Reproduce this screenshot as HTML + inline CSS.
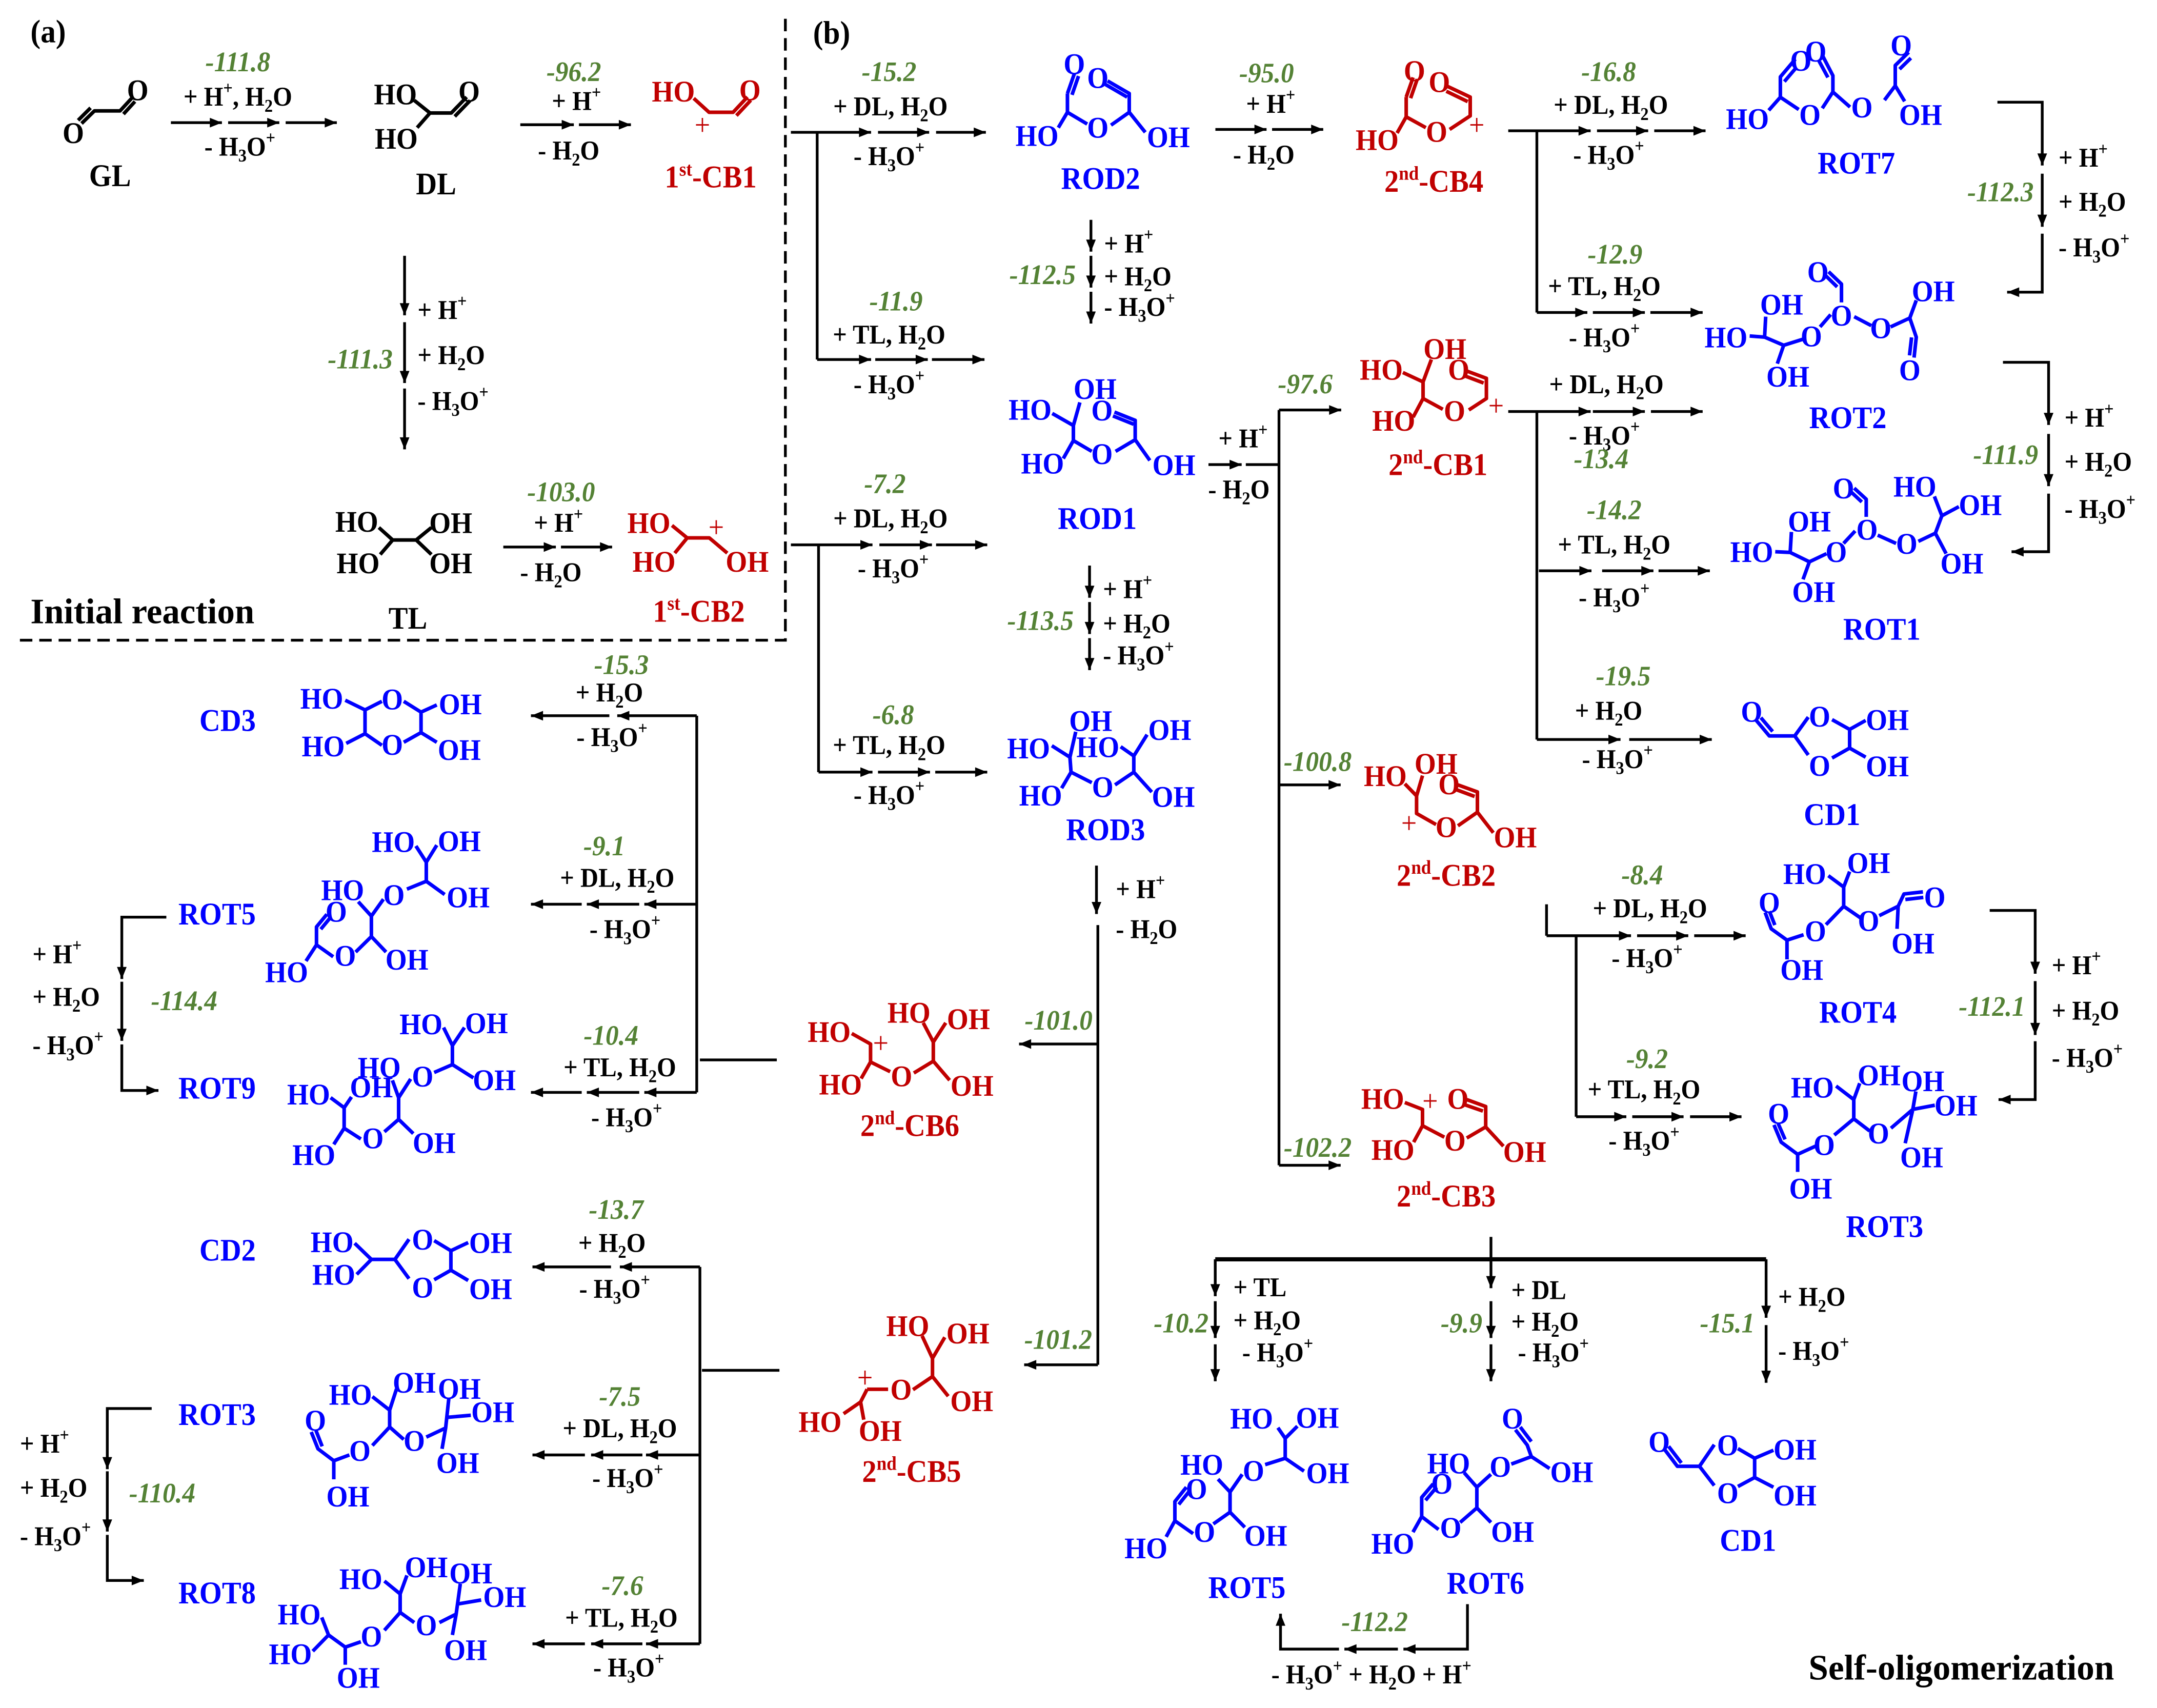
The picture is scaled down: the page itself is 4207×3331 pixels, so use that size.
<!DOCTYPE html>
<html><head><meta charset="utf-8"><style>
html,body{margin:0;padding:0;background:#fff;}
svg{display:block;}
text{font-family:"Liberation Serif","DejaVu Serif",serif;font-weight:bold;transform-box:fill-box;transform-origin:center;transform:scaleY(1.08);}
.t{font-size:18px;fill:#000;}
.g{font-size:19px;fill:#548235;font-style:italic;}
.s{font-size:20px;text-anchor:middle;}
.L{font-size:21px;text-anchor:middle;}
.m{text-anchor:middle;}
.e{text-anchor:end;}
.u{font-size:12px;}
.v{font-size:13px;}
.bl{fill:#0000ff;}
.rd{fill:#c00000;}
.bk{fill:#000;}
.k{stroke:#000;stroke-width:2;fill:none;}
.kb{stroke:#000;stroke-width:2.6;fill:none;stroke-linejoin:round;}
.bb{stroke:#0000ff;stroke-width:2.6;fill:none;stroke-linejoin:round;}
.rb{stroke:#c00000;stroke-width:2.6;fill:none;stroke-linejoin:round;}
</style></head><body>
<svg width="4207" height="3331" viewBox="0 0 1560 1235.2" preserveAspectRatio="none" xmlns="http://www.w3.org/2000/svg">
<defs>
<marker id="a" viewBox="0 0 10 8" refX="10" refY="4" markerWidth="9" markerHeight="7" markerUnits="userSpaceOnUse" orient="auto"><path d="M0,0 L10,4 L0,8 Z" fill="#000"/></marker>
</defs>
<rect width="1560" height="1235.2" fill="#fff"/>

<!-- ================= Panel (a) ================= -->
<text x="22" y="30" style="font-size:22px">(a)</text>
<path d="M568,13.6 L568,463 L13,463" stroke="#000" stroke-width="2" fill="none" stroke-dasharray="9 5"/>

<!-- GL -->
<path class="kb" d="M59,89.3 L68.3,80.2 L86.8,80.2 L95.2,71.1 M56.5,87 L65.5,78 M89.3,82.5 L97.6,73.4"/>
<text class="s bk" x="53" y="103">O</text>
<text class="s bk" x="99.6" y="72">O</text>
<text class="L bk" x="79.6" y="134">GL</text>

<g class="k" marker-end="url(#a)">
<path d="M123.6,88.7 L160.5,88.7"/><path d="M165,88.7 L202,88.7"/><path d="M206.6,88.7 L243.6,88.7"/>
<path d="M376.3,90.2 L415,90.2"/><path d="M418.7,90.2 L456.3,90.2"/>
<path d="M292.6,185 L292.6,228"/><path d="M292.6,233 L292.6,277"/><path d="M292.6,281 L292.6,325"/>
<path d="M364,395.6 L402,395.6"/><path d="M405.7,395.6 L442.7,395.6"/>
</g>
<text class="g m" x="172" y="51">-111.8</text>
<text class="t m" x="172" y="76">+ H<tspan class="u" dy="-8">+</tspan><tspan dy="8">, H</tspan><tspan class="u" dy="4">2</tspan><tspan dy="-4">O</tspan></text>
<text class="t m" x="173.5" y="112">- H<tspan class="u" dy="4">3</tspan><tspan dy="-4">O</tspan><tspan class="u" dy="-8">+</tspan></text>

<!-- DL -->
<path class="kb" d="M299.6,72.6 L311,81.7 L326.4,81.7 L337.5,70.2 M311,81.7 L301.7,92.3 M328.9,84.2 L340,72.7"/>
<text class="s bk" x="286" y="75">HO</text>
<text class="s bk" x="286.6" y="107">HO</text>
<text class="s bk" x="339.3" y="73">O</text>
<text class="L bk" x="315.4" y="140">DL</text>

<text class="g m" x="415" y="58">-96.2</text>
<text class="t m" x="416.9" y="79">+ H<tspan class="u" dy="-8">+</tspan></text>
<text class="t m" x="411.3" y="115">- H<tspan class="u" dy="4">2</tspan><tspan dy="-4">O</tspan></text>

<!-- 1st-CB1 -->
<path class="rb" d="M501.7,71.1 L512.8,81.2 L530.2,81.2 L540.6,70.1 M532.6,83.6 L543,72.5"/>
<text class="s rd" x="487" y="73">HO</text>
<text class="s rd" x="542.4" y="72">O</text>
<text class="s rd" x="508" y="97" style="font-weight:normal">+</text>
<text class="L rd" x="514" y="135">1<tspan class="v" dy="-8">st</tspan><tspan dy="8">-CB1</tspan></text>

<text class="t" x="302" y="230">+ H<tspan class="u" dy="-8">+</tspan></text>
<text class="t" x="302" y="263">+ H<tspan class="u" dy="4">2</tspan><tspan dy="-4">O</tspan></text>
<text class="t" x="302" y="296">- H<tspan class="u" dy="4">3</tspan><tspan dy="-4">O</tspan><tspan class="u" dy="-8">+</tspan></text>
<text class="g e" x="284" y="266">-111.3</text>

<!-- TL -->
<path class="kb" d="M274,381.5 L284,390.5 L301,390.5 L312,381.5 M284,390.5 L275,401 M301,390.5 L312,401"/>
<text class="s bk" x="258" y="384">HO</text>
<text class="s bk" x="326" y="385">OH</text>
<text class="s bk" x="259" y="414">HO</text>
<text class="s bk" x="326" y="414">OH</text>
<text class="L bk" x="295" y="454">TL</text>

<text class="g m" x="405.8" y="362">-103.0</text>
<text class="t m" x="403.9" y="384">+ H<tspan class="u" dy="-8">+</tspan></text>
<text class="t m" x="398.4" y="420">- H<tspan class="u" dy="4">2</tspan><tspan dy="-4">O</tspan></text>

<!-- 1st-CB2 -->
<path class="rb" d="M486,380 L497,389 L513,389 L526,400 M497,389 L488,400"/>
<text class="s rd" x="469.3" y="385">HO</text>
<text class="s rd" x="473" y="413">HO</text>
<text class="s rd" x="540.4" y="413">OH</text>
<text class="s rd" x="518" y="388" style="font-weight:normal">+</text>
<text class="L rd" x="505.4" y="449">1<tspan class="v" dy="-8">st</tspan><tspan dy="8">-CB2</tspan></text>

<text x="22" y="450" style="font-size:24px" textLength="162" lengthAdjust="spacingAndGlyphs">Initial reaction</text>

<!-- ================= Panel (b) ================= -->
<text x="588" y="31" style="font-size:22px">(b)</text>

<g class="k">
<path d="M591,95.7 L591,260"/>
<path d="M592,394 L592,558.4"/>
<path d="M901,336 L925,336"/>
<path d="M925,296.5 L925,842.7"/>
<path d="M794,669 L794,987"/>
<path d="M1111.5,94.6 L1111.5,226"/>
<path d="M1111.5,297.6 L1111.5,534.8"/>
<path d="M1118.5,654 L1118.5,676.7"/>
<path d="M1139.9,676.7 L1139.9,807.6"/>
<path d="M503.9,517.6 L503.9,790"/>
<path d="M506.2,766.5 L561.8,766.5"/>
<path d="M506.2,916.2 L506.2,1188.8"/>
<path d="M507.7,991 L563.7,991"/>
<path d="M878.9,910.7 L1277.3,910.7" stroke-width="3"/>
</g>
<g class="k" marker-end="url(#a)">
<path d="M572,95.7 L630,95.7"/><path d="M635,95.7 L672,95.7"/><path d="M677,95.7 L713,95.7"/>
<path d="M591,260 L630,260"/><path d="M633,260 L671,260"/><path d="M674,260 L712,260"/>
<path d="M879,93.6 L916,93.6"/><path d="M920,93.6 L957,93.6"/>
<path d="M789,159 L789,182"/><path d="M789,185 L789,208"/><path d="M789,211 L789,234"/>
<path d="M874,336 L898,336"/>
<path d="M925,296.5 L970,296.5"/>
<path d="M925,567.6 L969.6,567.6"/>
<path d="M925,842.7 L969.6,842.7"/>
<path d="M572,394 L631,394"/><path d="M636,394 L674,394"/><path d="M677,394 L714,394"/>
<path d="M592,558.4 L631,558.4"/><path d="M635,558.4 L672.6,558.4"/><path d="M676.4,558.4 L714,558.4"/>
<path d="M788,409 L788,432.3"/><path d="M788,435.4 L788,458.5"/><path d="M788,461.5 L788,484.6"/>
<path d="M793,626 L793,661"/>
<path d="M794,755 L737,755"/>
<path d="M794,987 L740.7,987"/>
<path d="M1090.8,94.6 L1150.4,94.6"/><path d="M1155,94.6 L1192,94.6"/><path d="M1196.4,94.6 L1233.5,94.6"/>
<path d="M1111.5,226 L1148,226"/><path d="M1152,226 L1189.6,226"/><path d="M1193.6,226 L1231.4,226"/>
<path d="M1444.6,73.9 L1477,73.9 L1477,119.7"/><path d="M1477,125.6 L1477,164"/><path d="M1477,169 L1477,211.3 L1451.6,211.3"/>
<path d="M1090.8,297.6 L1150.4,297.6"/><path d="M1152,297.6 L1189.6,297.6"/><path d="M1194,297.6 L1231.4,297.6"/>
<path d="M1448.6,262 L1481.6,262 L1481.6,307.3"/><path d="M1481.6,313.8 L1481.6,351.6"/><path d="M1481.6,357 L1481.6,399 L1454.8,399"/>
<path d="M1113,412.8 L1151,412.8"/><path d="M1158.7,412.8 L1195.8,412.8"/><path d="M1199.5,412.8 L1236.6,412.8"/>
<path d="M1111.5,534.8 L1172,534.8"/><path d="M1178.3,534.8 L1238,534.8"/>
<path d="M1118.5,676.7 L1179.6,676.7"/><path d="M1184,676.7 L1221,676.7"/><path d="M1225.3,676.7 L1262.5,676.7"/>
<path d="M1439,658.4 L1471.9,658.4 L1471.9,704.2"/><path d="M1471.9,709.5 L1471.9,748.5"/><path d="M1471.9,753 L1471.9,795.2 L1445.4,795.2"/>
<path d="M1139.9,807.6 L1176.2,807.6"/><path d="M1180.5,807.6 L1217.6,807.6"/><path d="M1222.3,807.6 L1259.5,807.6"/>
<path d="M878.9,910.7 L878.9,937.4"/><path d="M878.9,941 L878.9,967.6"/><path d="M878.9,972.2 L878.9,998.9"/>
<path d="M1078.3,894.5 L1078.3,931.6"/><path d="M1078.3,941 L1078.3,967.6"/><path d="M1078.3,972.2 L1078.3,998.9"/>
<path d="M1277.3,910.7 L1277.3,953"/><path d="M1277.3,958.3 L1277.3,1000"/>
<path d="M1061.3,1160.1 L1061.3,1192.6 L1015,1192.6"/><path d="M1011,1192.6 L972.3,1192.6"/><path d="M968.4,1192.6 L926.1,1192.6 L926.1,1167"/>
<path d="M503.9,517.6 L446.4,517.6"/><path d="M440.7,517.6 L384,517.6"/>
<path d="M503.9,653.9 L466,653.9"/><path d="M462.3,653.9 L424.4,653.9"/><path d="M420.7,653.9 L384,653.9"/>
<path d="M503.9,790 L466,790"/><path d="M462.3,790 L424.4,790"/><path d="M420.7,790 L384,790"/>
<path d="M120.3,663.3 L88.1,663.3 L88.1,708"/><path d="M88.1,710 L88.1,752.7"/><path d="M88.1,755.3 L88.1,788.6 L114.6,788.6"/>
<path d="M506.2,916.2 L448.3,916.2"/><path d="M441.9,916.2 L385.1,916.2"/>
<path d="M506.2,1052.2 L467.2,1052.2"/><path d="M464.6,1052.2 L427.5,1052.2"/><path d="M423,1052.2 L385.1,1052.2"/>
<path d="M506.2,1188.8 L467.2,1188.8"/><path d="M464.6,1188.8 L427.5,1188.8"/><path d="M423,1188.8 L385.1,1188.8"/>
<path d="M109.7,1018.6 L77.6,1018.6 L77.6,1062.5"/><path d="M77.6,1064 L77.6,1107.6"/><path d="M77.6,1110 L77.6,1143 L104,1143"/>
</g>

<!-- reagent labels (b) -->
<text class="g m" x="643" y="58">-15.2</text>
<text class="t m" x="644" y="83">+ DL, H<tspan class="u" dy="4">2</tspan><tspan dy="-4">O</tspan></text>
<text class="t m" x="643" y="119">- H<tspan class="u" dy="4">3</tspan><tspan dy="-4">O</tspan><tspan class="u" dy="-8">+</tspan></text>
<text class="g m" x="648" y="224">-11.9</text>
<text class="t m" x="643" y="248">+ TL, H<tspan class="u" dy="4">2</tspan><tspan dy="-4">O</tspan></text>
<text class="t m" x="643" y="284">- H<tspan class="u" dy="4">3</tspan><tspan dy="-4">O</tspan><tspan class="u" dy="-8">+</tspan></text>

<text class="g m" x="916" y="59">-95.0</text>
<text class="t m" x="919" y="81">+ H<tspan class="u" dy="-8">+</tspan></text>
<text class="t m" x="914" y="118">- H<tspan class="u" dy="4">2</tspan><tspan dy="-4">O</tspan></text>

<text class="t" x="798.5" y="182">+ H<tspan class="u" dy="-8">+</tspan></text>
<text class="t" x="798.5" y="206">+ H<tspan class="u" dy="4">2</tspan><tspan dy="-4">O</tspan></text>
<text class="t" x="798.5" y="228">- H<tspan class="u" dy="4">3</tspan><tspan dy="-4">O</tspan><tspan class="u" dy="-8">+</tspan></text>
<text class="g e" x="778" y="205">-112.5</text>

<text class="g m" x="944" y="284">-97.6</text>
<text class="t m" x="899" y="323">+ H<tspan class="u" dy="-8">+</tspan></text>
<text class="t m" x="896" y="360">- H<tspan class="u" dy="4">2</tspan><tspan dy="-4">O</tspan></text>

<text class="g m" x="640" y="356">-7.2</text>
<text class="t m" x="644" y="381">+ DL, H<tspan class="u" dy="4">2</tspan><tspan dy="-4">O</tspan></text>
<text class="t m" x="646" y="417">- H<tspan class="u" dy="4">3</tspan><tspan dy="-4">O</tspan><tspan class="u" dy="-8">+</tspan></text>
<text class="g m" x="646" y="523">-6.8</text>
<text class="t m" x="643" y="545">+ TL, H<tspan class="u" dy="4">2</tspan><tspan dy="-4">O</tspan></text>
<text class="t m" x="643" y="581">- H<tspan class="u" dy="4">3</tspan><tspan dy="-4">O</tspan><tspan class="u" dy="-8">+</tspan></text>

<text class="t" x="797.7" y="432">+ H<tspan class="u" dy="-8">+</tspan></text>
<text class="t" x="797.7" y="457">+ H<tspan class="u" dy="4">2</tspan><tspan dy="-4">O</tspan></text>
<text class="t" x="797.7" y="480">- H<tspan class="u" dy="4">3</tspan><tspan dy="-4">O</tspan><tspan class="u" dy="-8">+</tspan></text>
<text class="g e" x="776.5" y="455">-113.5</text>

<text class="t" x="807" y="649">+ H<tspan class="u" dy="-8">+</tspan></text>
<text class="t" x="807" y="678">- H<tspan class="u" dy="4">2</tspan><tspan dy="-4">O</tspan></text>
<text class="g m" x="765.6" y="744">-101.0</text>
<text class="g m" x="765.3" y="975">-101.2</text>
<text class="g m" x="953" y="557">-100.8</text>
<text class="g m" x="953" y="836">-102.2</text>

<text class="g m" x="1163.4" y="58">-16.8</text>
<text class="t m" x="1165" y="82">+ DL, H<tspan class="u" dy="4">2</tspan><tspan dy="-4">O</tspan></text>
<text class="t m" x="1163.4" y="118">- H<tspan class="u" dy="4">3</tspan><tspan dy="-4">O</tspan><tspan class="u" dy="-8">+</tspan></text>
<text class="t" x="1488.8" y="120">+ H<tspan class="u" dy="-8">+</tspan></text>
<text class="t" x="1488.8" y="152">+ H<tspan class="u" dy="4">2</tspan><tspan dy="-4">O</tspan></text>
<text class="t" x="1488.8" y="185">- H<tspan class="u" dy="4">3</tspan><tspan dy="-4">O</tspan><tspan class="u" dy="-8">+</tspan></text>
<text class="g e" x="1470.8" y="145">-112.3</text>

<text class="g m" x="1168" y="190">-12.9</text>
<text class="t m" x="1160.3" y="213">+ TL, H<tspan class="u" dy="4">2</tspan><tspan dy="-4">O</tspan></text>
<text class="t m" x="1160.3" y="250">- H<tspan class="u" dy="4">3</tspan><tspan dy="-4">O</tspan><tspan class="u" dy="-8">+</tspan></text>

<text class="t" x="1493.1" y="308">+ H<tspan class="u" dy="-8">+</tspan></text>
<text class="t" x="1493.1" y="340">+ H<tspan class="u" dy="4">2</tspan><tspan dy="-4">O</tspan></text>
<text class="t" x="1493.1" y="374">- H<tspan class="u" dy="4">3</tspan><tspan dy="-4">O</tspan><tspan class="u" dy="-8">+</tspan></text>
<text class="g e" x="1474" y="335">-111.9</text>

<text class="t m" x="1161.8" y="284">+ DL, H<tspan class="u" dy="4">2</tspan><tspan dy="-4">O</tspan></text>
<text class="t m" x="1160.3" y="321">- H<tspan class="u" dy="4">3</tspan><tspan dy="-4">O</tspan><tspan class="u" dy="-8">+</tspan></text>
<text class="g m" x="1158" y="338">-13.4</text>
<text class="g m" x="1167.4" y="375">-14.2</text>
<text class="t m" x="1167.4" y="400">+ TL, H<tspan class="u" dy="4">2</tspan><tspan dy="-4">O</tspan></text>
<text class="t m" x="1167.4" y="438">- H<tspan class="u" dy="4">3</tspan><tspan dy="-4">O</tspan><tspan class="u" dy="-8">+</tspan></text>

<text class="g m" x="1174" y="495">-19.5</text>
<text class="t m" x="1163.4" y="520">+ H<tspan class="u" dy="4">2</tspan><tspan dy="-4">O</tspan></text>
<text class="t m" x="1169.8" y="555">- H<tspan class="u" dy="4">3</tspan><tspan dy="-4">O</tspan><tspan class="u" dy="-8">+</tspan></text>

<text class="g m" x="1187.7" y="639">-8.4</text>
<text class="t m" x="1193.3" y="663">+ DL, H<tspan class="u" dy="4">2</tspan><tspan dy="-4">O</tspan></text>
<text class="t m" x="1191.2" y="699">- H<tspan class="u" dy="4">3</tspan><tspan dy="-4">O</tspan><tspan class="u" dy="-8">+</tspan></text>
<text class="t" x="1483.9" y="704">+ H<tspan class="u" dy="-8">+</tspan></text>
<text class="t" x="1483.9" y="737">+ H<tspan class="u" dy="4">2</tspan><tspan dy="-4">O</tspan></text>
<text class="t" x="1483.9" y="771">- H<tspan class="u" dy="4">3</tspan><tspan dy="-4">O</tspan><tspan class="u" dy="-8">+</tspan></text>
<text class="g e" x="1464.6" y="734">-112.1</text>
<text class="g m" x="1191.2" y="772">-9.2</text>
<text class="t m" x="1189" y="794">+ TL, H<tspan class="u" dy="4">2</tspan><tspan dy="-4">O</tspan></text>
<text class="t m" x="1189" y="831">- H<tspan class="u" dy="4">3</tspan><tspan dy="-4">O</tspan><tspan class="u" dy="-8">+</tspan></text>

<!-- bottom middle reagents -->
<text class="t" x="892" y="937">+ TL</text>
<text class="t" x="892" y="961">+ H<tspan class="u" dy="4">2</tspan><tspan dy="-4">O</tspan></text>
<text class="t" x="898.4" y="984">- H<tspan class="u" dy="4">3</tspan><tspan dy="-4">O</tspan><tspan class="u" dy="-8">+</tspan></text>
<text class="g e" x="874" y="963">-10.2</text>
<text class="t" x="1093" y="939">+ DL</text>
<text class="t" x="1093" y="962">+ H<tspan class="u" dy="4">2</tspan><tspan dy="-4">O</tspan></text>
<text class="t" x="1097.8" y="984">- H<tspan class="u" dy="4">3</tspan><tspan dy="-4">O</tspan><tspan class="u" dy="-8">+</tspan></text>
<text class="g e" x="1072" y="963">-9.9</text>
<text class="t" x="1286" y="944">+ H<tspan class="u" dy="4">2</tspan><tspan dy="-4">O</tspan></text>
<text class="t" x="1286" y="983">- H<tspan class="u" dy="4">3</tspan><tspan dy="-4">O</tspan><tspan class="u" dy="-8">+</tspan></text>
<text class="g e" x="1269" y="963">-15.1</text>
<text class="g m" x="994.2" y="1179">-112.2</text>
<text class="t m" x="991.8" y="1217">- H<tspan class="u" dy="4">3</tspan><tspan dy="-4">O</tspan><tspan class="u" dy="-8">+</tspan><tspan dy="8"> + H</tspan><tspan class="u" dy="4">2</tspan><tspan dy="-4">O + H</tspan><tspan class="u" dy="-8">+</tspan></text>
<text x="1308" y="1214" style="font-size:24px" textLength="221" lengthAdjust="spacingAndGlyphs">Self-oligomerization</text>

<!-- left reagents -->
<text class="g m" x="449.4" y="487">-15.3</text>
<text class="t m" x="440.7" y="507">+ H<tspan class="u" dy="4">2</tspan><tspan dy="-4">O</tspan></text>
<text class="t m" x="442.6" y="539">- H<tspan class="u" dy="4">3</tspan><tspan dy="-4">O</tspan><tspan class="u" dy="-8">+</tspan></text>
<text class="g m" x="437" y="618">-9.1</text>
<text class="t m" x="446.4" y="641">+ DL, H<tspan class="u" dy="4">2</tspan><tspan dy="-4">O</tspan></text>
<text class="t m" x="452" y="678">- H<tspan class="u" dy="4">3</tspan><tspan dy="-4">O</tspan><tspan class="u" dy="-8">+</tspan></text>
<text class="g m" x="441.9" y="755">-10.4</text>
<text class="t m" x="448.3" y="778">+ TL, H<tspan class="u" dy="4">2</tspan><tspan dy="-4">O</tspan></text>
<text class="t m" x="453.2" y="814">- H<tspan class="u" dy="4">3</tspan><tspan dy="-4">O</tspan><tspan class="u" dy="-8">+</tspan></text>
<text class="t" x="23.5" y="696">+ H<tspan class="u" dy="-8">+</tspan></text>
<text class="t" x="23.5" y="727">+ H<tspan class="u" dy="4">2</tspan><tspan dy="-4">O</tspan></text>
<text class="t" x="23.5" y="762">- H<tspan class="u" dy="4">3</tspan><tspan dy="-4">O</tspan><tspan class="u" dy="-8">+</tspan></text>
<text class="g m" x="133.2" y="730">-114.4</text>

<text class="g m" x="445.6" y="881">-13.7</text>
<text class="t m" x="442.6" y="905">+ H<tspan class="u" dy="4">2</tspan><tspan dy="-4">O</tspan></text>
<text class="t m" x="444.5" y="938">- H<tspan class="u" dy="4">3</tspan><tspan dy="-4">O</tspan><tspan class="u" dy="-8">+</tspan></text>
<text class="g m" x="448.3" y="1016">-7.5</text>
<text class="t m" x="448.3" y="1039">+ DL, H<tspan class="u" dy="4">2</tspan><tspan dy="-4">O</tspan></text>
<text class="t m" x="454" y="1075">- H<tspan class="u" dy="4">3</tspan><tspan dy="-4">O</tspan><tspan class="u" dy="-8">+</tspan></text>
<text class="g m" x="450.2" y="1153">-7.6</text>
<text class="t m" x="449.4" y="1176">+ TL, H<tspan class="u" dy="4">2</tspan><tspan dy="-4">O</tspan></text>
<text class="t m" x="454.7" y="1212">- H<tspan class="u" dy="4">3</tspan><tspan dy="-4">O</tspan><tspan class="u" dy="-8">+</tspan></text>
<text class="t" x="14.4" y="1050">+ H<tspan class="u" dy="-8">+</tspan></text>
<text class="t" x="14.4" y="1082">+ H<tspan class="u" dy="4">2</tspan><tspan dy="-4">O</tspan></text>
<text class="t" x="14.4" y="1117">- H<tspan class="u" dy="4">3</tspan><tspan dy="-4">O</tspan><tspan class="u" dy="-8">+</tspan></text>
<text class="g m" x="117.3" y="1086">-110.4</text>

<!-- ================= blue structures bonds ================= -->
<path class="bb" d="
M772,67.6 L772,81.2 L765.4,92.3 M772,81.2 L786.3,89.7 M803.5,90.5 L816.7,81.2 L816.7,67.6 L801,58.5 M816.7,81.2 L828.3,95.7 M772,67.6 L777,53.3 M775.3,68.6 L780,55 M815.2,70.2 L799.5,61.1
M761,299 L776.3,307.7 L781,291 M776.3,307.7 L776.3,318.6 L769,331.6 M776.3,318.6 L789.6,326.4 M806.8,326.4 L821,318 L821,304 L806,298 M821,318 L831.6,333 M819.9,306.8 L804.9,300.8
M760.7,539.3 L773.8,547.6 L778,529.2 M773.8,547.6 L774.6,558.4 L767.8,570 M774.6,558.4 L789.6,566 M806.4,567.6 L820,558.4 L820,546.7 L810.5,540 M820,546.7 L829.6,531.3 M820,558.4 L833,572.8
M1279.2,79.8 L1287.6,70.3 L1287.6,55.6 L1298.4,42.8 M1290.5,59 L1299,49 M1287.6,70.3 L1300.9,79.2 M1317.9,78.3 L1325.6,66.5 L1325.6,54.7 L1318,40 M1322,56 L1315.5,44 M1325.6,66.5 L1338,77.4 M1362.9,72.4 L1370.7,62 L1370.7,47.3 L1380.4,37.8 M1373.8,50 L1382,42 M1370.7,62 L1377.5,73.3
M1265.4,243 L1276.2,243.8 L1277,229 M1276.2,243.8 L1290,249.7 L1285.4,263 M1290,249.7 L1304,245.3 M1316.3,236.4 L1324,227.5 M1331.8,218.7 L1331.8,205.4 L1322.5,196.5 M1328.7,207.5 L1320.5,199.5 M1341,229 L1353.4,235.5 M1367.3,236.4 L1381.2,230 L1385.9,217.2 M1381.2,230 L1385.9,243.8 L1384.3,258.6 M1382.5,244 L1381,257
M1283.9,399 L1294.7,399.5 L1295.6,384.7 M1294.7,399.5 L1308.6,406.3 L1304,419 M1308.6,406.3 L1321,400.4 M1333.3,393 L1341.7,384 M1349.7,373.8 L1349.7,361 L1341,353 M1346.5,363 L1339,356 M1358,387 L1371.3,393 M1387.4,391.5 L1399.7,385.6 L1404.4,373 L1399,359 M1404.4,373 L1416.7,366.4 M1399.7,385.6 L1407.5,400.4
M1270.2,521 L1279.6,532.2 L1298,532.2 L1307.8,518.6 M1273.5,519 L1282,529 M1298,532.2 L1307.8,546 M1325,520.4 L1337.7,527.5 L1337.7,541 L1325,548.2 M1337.7,527.5 L1349.3,521 M1337.7,541 L1349.3,547.6
M1276.6,659.9 L1281,671.7 L1292.4,679.9 L1292.4,693.8 M1279.7,659 L1283.6,669 M1292.4,679.9 L1304.4,676 M1320.6,668.7 L1333.4,655.4 L1333.4,641.5 L1322.3,633.3 M1333.4,641.5 L1337.7,630.3 M1333.4,655.4 L1346.3,664.3 M1359.1,662.2 L1372.8,655.4 L1377,646.5 L1390.7,645 M1378,650.5 L1391,649 M1372.8,655.4 L1372,671.7
M1283,813.5 L1288.2,826 L1300.1,834.8 L1300.1,847.5 M1286,812.5 L1291,824 M1300.1,834.8 L1313,828.9 M1326.6,820.9 L1340.7,809.1 L1340.7,795.2 L1327.9,785.4 M1340.7,795.2 L1345,783.4 M1340.7,809.1 L1352.2,817.9 M1367.6,815.9 L1383.4,802.3 L1385.6,789.3 M1383.4,802.3 L1399.3,799.3 M1383.4,802.3 L1377.9,826.8
M924.2,1032.5 L929.5,1040.2 L938.3,1031.4 M929.5,1040.2 L929.5,1054.6 L915,1059.2 M929.5,1054.6 L943.1,1063.9 M898.4,1066.2 L889.6,1079 L880.9,1069.7 M889.6,1079 L889.6,1093.6 L877.5,1102.1 M889.6,1093.6 L900.3,1104.5 M862.9,1109.1 L849.7,1099.8 L843.4,1111.4 M849.7,1099.8 L849.7,1085.9 L858,1075.5 M852.5,1088 L860.5,1078
M1096,1034 L1104.5,1045 L1107.5,1053.4 L1093,1058.8 M1099.5,1032 L1107.5,1042.5 M1107.5,1053.4 L1120.7,1062 M1078.3,1066.2 L1068.1,1075.5 L1058.9,1065 M1068.1,1075.5 L1068.1,1090.5 L1056,1101 M1068.1,1090.5 L1078.3,1101 M1040.4,1106.1 L1028.2,1096.8 L1021.9,1108 M1028.2,1096.8 L1028.2,1082.9 L1036.5,1073.1 M1031,1085 L1039,1075.5
M1203.4,1047.6 L1213.1,1060.4 L1229.1,1060.4 L1239.8,1044.8 M1206.8,1046 L1216,1058 M1229.1,1060.4 L1239.8,1074.3 M1256.9,1047.6 L1269,1054.6 L1269,1068.5 L1256.9,1075 M1269,1054.6 L1282.6,1048.8 M1269,1068.5 L1282.6,1075.5
M249.7,506.4 L264,513.4 L264,530.6 L250.4,537.6 M264,513.4 L276.2,507.2 M292,507.2 L304.5,515 L304.5,529.8 L292,536.8 M304.5,515 L315.9,509.8 M304.5,529.8 L315.9,536.8 M264,530.6 L276.2,539
M300.8,611.8 L308.3,623.5 L315.9,611.2 M308.3,623.5 L308.3,637.3 L294.3,643 M308.3,637.3 L321.6,646.9 M277.3,650.3 L268.6,662.5 L259.1,652.1 M268.6,662.5 L268.6,677.3 L257.2,688.5 M268.6,677.3 L279.2,688.5 M241,691.9 L228.9,683.3 L221.3,695 M228.9,683.3 L228.9,670.3 L236.4,661.2 M232,672 L239,663.5
M320.8,743.1 L327.2,756.1 L335.9,743.1 M327.2,756.1 L327.2,769.9 L314,775.6 M327.2,769.9 L342.4,779.5 M297,780.3 L288.3,793.8 L283.8,781.3 M288.3,793.8 L288.3,809.5 L278,818.5 M288.3,809.5 L298.9,819.8 M261,823.7 L248.9,815.9 L241.4,827.6 M248.9,815.9 L248.9,801.1 L239.1,793.8 M248.9,801.1 L254.2,793.3
M256.5,899.1 L268.6,910.8 L258,921.6 M268.6,910.8 L285.6,910.8 L295.8,896.2 M285.6,910.8 L295.8,924.7 M314,897.2 L326.1,904.5 L326.1,918.6 L314,925.5 M326.1,904.5 L338.6,898.6 M326.1,918.6 L338.6,926
M225.1,1035.6 L230,1047.8 L241.4,1056.4 L241.4,1069.8 M228.5,1034.5 L233,1046 M241.4,1056.4 L252.7,1052.2 M269.3,1045.4 L281.8,1032 L281.8,1019.8 L269.3,1010 M281.8,1019.8 L286.8,1004.4 M281.8,1032 L292,1041 M308.3,1039.3 L322.3,1032.7 L324.6,1011.3 M322.3,1032.7 L319.7,1047.8 M323.5,1025 L340.5,1023.5
M232.7,1169.7 L237.6,1182.4 L226.2,1194.1 M237.6,1182.4 L249.7,1191.2 L249.7,1203.9 M249.7,1191.2 L261,1187.3 M278,1179 L289.4,1166.1 L289.4,1152.7 L278,1143.4 M289.4,1152.7 L294.3,1139.3 M289.4,1166.1 L299.6,1173.4 M317.8,1173.4 L329.9,1167.3 L332.9,1145.4 M329.9,1167.3 L327.2,1182.4 M331,1160 L348,1157.1
"/>

<!-- ================= red structures bonds ================= -->
<path class="rb" d="
M1017,70.2 L1017,84.5 L1010.4,96.2 M1017,84.5 L1031.2,92.3 M1048.4,93.6 L1063.3,83.8 L1063.3,70.2 L1046.8,62.4 M1017,70.2 L1022,56 M1020.2,71 L1025,57.2 M1061.5,73.5 L1046,66
M1014.6,269.4 L1029.2,276.2 L1035.2,260 M1029.2,276.2 L1029.2,288.2 L1022,301.7 M1029.2,288.2 L1043.5,296 M1062.3,296.5 L1075,288.2 L1075,273.6 L1060,268 M1073,277 L1058.5,271.5
M1016,566.8 L1024.5,575.6 L1028.8,560.9 M1024.5,575.6 L1024.5,588.3 L1038.6,596.3 M1054.4,597.2 L1068.5,587.4 L1068.5,572.7 L1054.4,567.6 M1068.5,587.4 L1080,602.2 M1066.5,576 L1053,571
M1016,797.3 L1028.8,802.3 L1028.8,814.1 L1022.4,826 M1028.8,814.1 L1044.6,822.4 M1060.8,823 L1074.5,815 L1074.5,800.2 L1060.8,795.2 M1074.5,815 L1087.3,828.9 M1072.5,803.5 L1059.5,799
M616,747.4 L629.6,755 L629.6,768 L622.8,780 M629.6,768 L643.8,775 M660.9,776 L675,767.4 L675,753.6 L667.7,739.7 M675,753.6 L684,739.7 M675,767.4 L686.8,781.2
M627.1,1004.7 L642.3,1004.7 M627.1,1004.7 L622.4,1013.9 L610.1,1022.4 M622.4,1013.9 L624.7,1026.7 M660.3,1005 L674.4,995.5 L674.4,982.3 L666.9,966.1 M674.4,982.3 L683.3,967.1 M674.4,995.5 L685.8,1009.7
"/>

<!-- ================= atom labels ================= -->
<!-- ROD2 -->
<text class="s bl" x="777" y="53">O</text>
<text class="s bl" x="794" y="63">O</text>
<text class="s bl" x="750" y="105">HO</text>
<text class="s bl" x="794" y="99">O</text>
<text class="s bl" x="845" y="106">OH</text>
<text class="L bl" x="796" y="136">ROD2</text>
<!-- 2nd-CB4 -->
<text class="s rd" x="1023" y="58">O</text>
<text class="s rd" x="1041" y="66">O</text>
<text class="s rd" x="996" y="108">HO</text>
<text class="s rd" x="1039" y="102">O</text>
<text class="s rd" x="1068" y="97" style="font-weight:normal">+</text>
<text class="L rd" x="1037" y="138">2<tspan class="v" dy="-8">nd</tspan><tspan dy="8">-CB4</tspan></text>
<!-- ROD1 -->
<text class="s bl" x="792" y="288">OH</text>
<text class="s bl" x="745" y="303">HO</text>
<text class="s bl" x="797" y="303.5">O</text>
<text class="s bl" x="754" y="342">HO</text>
<text class="s bl" x="797" y="335">O</text>
<text class="s bl" x="849" y="343">OH</text>
<text class="L bl" x="793.6" y="382">ROD1</text>
<!-- 2nd-CB1 -->
<text class="s rd" x="1045" y="259">OH</text>
<text class="s rd" x="999" y="274">HO</text>
<text class="s rd" x="1055" y="274">O</text>
<text class="s rd" x="1008" y="311">HO</text>
<text class="s rd" x="1052" y="304">O</text>
<text class="s rd" x="1082" y="300" style="font-weight:normal">+</text>
<text class="L rd" x="1040" y="343">2<tspan class="v" dy="-8">nd</tspan><tspan dy="8">-CB1</tspan></text>
<!-- ROD3 -->
<text class="s bl" x="788.8" y="528">OH</text>
<text class="s bl" x="743.9" y="548">HO</text>
<text class="s bl" x="794" y="547">HO</text>
<text class="s bl" x="846" y="534.6">OH</text>
<text class="s bl" x="752.6" y="582">HO</text>
<text class="s bl" x="797.5" y="576">O</text>
<text class="s bl" x="848.6" y="583">OH</text>
<text class="L bl" x="799.6" y="607">ROD3</text>
<!-- 2nd-CB6 -->
<text class="s rd" x="599.7" y="753">HO</text>
<text class="s rd" x="657.4" y="739">HO</text>
<text class="s rd" x="700.4" y="743.7">OH</text>
<text class="s rd" x="607.9" y="791">HO</text>
<text class="s rd" x="652" y="785">O</text>
<text class="s rd" x="703" y="792">OH</text>
<text class="s rd" x="637" y="761" style="font-weight:normal">+</text>
<text class="L rd" x="658" y="821">2<tspan class="v" dy="-8">nd</tspan><tspan dy="8">-CB6</tspan></text>
<!-- 2nd-CB5 -->
<text class="s rd" x="656.5" y="965.6">HO</text>
<text class="s rd" x="700" y="971">OH</text>
<text class="s rd" x="625.6" y="1003" style="font-weight:normal">+</text>
<text class="s rd" x="651.7" y="1011.7">O</text>
<text class="s rd" x="702.8" y="1020">OH</text>
<text class="s rd" x="593.1" y="1035">HO</text>
<text class="s rd" x="636.6" y="1041.5">OH</text>
<text class="L rd" x="659.3" y="1071">2<tspan class="v" dy="-8">nd</tspan><tspan dy="8">-CB5</tspan></text>
<!-- ROT7 -->
<text class="s bl" x="1302.4" y="50.7">O</text>
<text class="s bl" x="1313.2" y="44">O</text>
<text class="s bl" x="1375" y="39.5">O</text>
<text class="s bl" x="1263.8" y="92.7">HO</text>
<text class="s bl" x="1309" y="89.7">O</text>
<text class="s bl" x="1346.6" y="84.4">O</text>
<text class="s bl" x="1389" y="89.7">OH</text>
<text class="L bl" x="1342.6" y="125">ROT7</text>
<!-- ROT2 -->
<text class="s bl" x="1314.8" y="203.5">O</text>
<text class="s bl" x="1288.5" y="227">OH</text>
<text class="s bl" x="1398.2" y="217.4">OH</text>
<text class="s bl" x="1248.3" y="250.8">HO</text>
<text class="s bl" x="1310" y="250">O</text>
<text class="s bl" x="1331.8" y="235">O</text>
<text class="s bl" x="1360.2" y="244">O</text>
<text class="s bl" x="1293" y="279">OH</text>
<text class="s bl" x="1381.2" y="274.4">O</text>
<text class="L bl" x="1336.4" y="309">ROT2</text>
<!-- ROT1 -->
<text class="s bl" x="1333.3" y="360">O</text>
<text class="s bl" x="1384.9" y="358.6">HO</text>
<text class="s bl" x="1432.2" y="372">OH</text>
<text class="s bl" x="1308.6" y="383.8">OH</text>
<text class="s bl" x="1266.9" y="406">HO</text>
<text class="s bl" x="1328" y="406">O</text>
<text class="s bl" x="1350.3" y="389.7">O</text>
<text class="s bl" x="1379" y="400">O</text>
<text class="s bl" x="1418.9" y="414.2">OH</text>
<text class="s bl" x="1311.7" y="434.9">OH</text>
<text class="L bl" x="1361" y="462">ROT1</text>
<!-- CD1 right -->
<text class="s bl" x="1266.8" y="521.5">O</text>
<text class="s bl" x="1316" y="525">O</text>
<text class="s bl" x="1365" y="527.4">OH</text>
<text class="s bl" x="1316" y="560.5">O</text>
<text class="s bl" x="1365" y="561">OH</text>
<text class="L bl" x="1325" y="596">CD1</text>
<!-- 2nd-CB2 -->
<text class="s rd" x="1001.9" y="568">HO</text>
<text class="s rd" x="1038.6" y="559">OH</text>
<text class="s rd" x="1048" y="573.8">O</text>
<text class="s rd" x="1019" y="601.8" style="font-weight:normal">+</text>
<text class="s rd" x="1046" y="604.8">O</text>
<text class="s rd" x="1095.9" y="612.2">OH</text>
<text class="L rd" x="1045.9" y="640">2<tspan class="v" dy="-8">nd</tspan><tspan dy="8">-CB2</tspan></text>
<!-- ROT4 -->
<text class="s bl" x="1305.2" y="638.8">HO</text>
<text class="s bl" x="1351.4" y="630.8">OH</text>
<text class="s bl" x="1279.6" y="659.5">O</text>
<text class="s bl" x="1399.3" y="655.6">O</text>
<text class="s bl" x="1313" y="680.2">O</text>
<text class="s bl" x="1351.4" y="672.8">O</text>
<text class="s bl" x="1383.5" y="689">OH</text>
<text class="s bl" x="1303.1" y="708.2">OH</text>
<text class="L bl" x="1343.7" y="739">ROT4</text>
<!-- ROT3 right -->
<text class="s bl" x="1310.8" y="793.3">HO</text>
<text class="s bl" x="1359" y="784.4">OH</text>
<text class="s bl" x="1390.7" y="788.6">OH</text>
<text class="s bl" x="1414.6" y="806.3">OH</text>
<text class="s bl" x="1286.4" y="812.2">O</text>
<text class="s bl" x="1319.3" y="834.7">O</text>
<text class="s bl" x="1358.6" y="826.4">O</text>
<text class="s bl" x="1389.8" y="843.6">OH</text>
<text class="s bl" x="1309.5" y="866.3">OH</text>
<text class="L bl" x="1363" y="894">ROT3</text>
<!-- 2nd-CB3 -->
<text class="s rd" x="1000" y="801.3">HO</text>
<text class="s rd" x="1034.3" y="802.8" style="font-weight:normal">+</text>
<text class="s rd" x="1054.4" y="801.3">O</text>
<text class="s rd" x="1007.4" y="838.2">HO</text>
<text class="s rd" x="1052.3" y="831.7">O</text>
<text class="s rd" x="1102.7" y="839.7">OH</text>
<text class="L rd" x="1045.9" y="872">2<tspan class="v" dy="-8">nd</tspan><tspan dy="8">-CB3</tspan></text>
<!-- ROT5 bottom -->
<text class="s bl" x="905.2" y="1032.6">HO</text>
<text class="s bl" x="952.8" y="1032">OH</text>
<text class="s bl" x="869.2" y="1066">HO</text>
<text class="s bl" x="906.6" y="1070.4">O</text>
<text class="s bl" x="960.2" y="1072">OH</text>
<text class="s bl" x="865.3" y="1083.6">O</text>
<text class="s bl" x="871.1" y="1114.5">O</text>
<text class="s bl" x="915.4" y="1117.3">OH</text>
<text class="s bl" x="828.8" y="1126.5">HO</text>
<text class="L bl" x="901.8" y="1155">ROT5</text>
<!-- ROT6 -->
<text class="s bl" x="1093.9" y="1032.6">O</text>
<text class="s bl" x="1047.7" y="1065">HO</text>
<text class="s bl" x="1085.1" y="1067.4">O</text>
<text class="s bl" x="1136.7" y="1071.3">OH</text>
<text class="s bl" x="1042.8" y="1079.7">O</text>
<text class="s bl" x="1049.2" y="1111.5">O</text>
<text class="s bl" x="1093.9" y="1114.5">OH</text>
<text class="s bl" x="1007.3" y="1123">HO</text>
<text class="L bl" x="1074.4" y="1152">ROT6</text>
<!-- CD1 bottom -->
<text class="s bl" x="1200" y="1049.5">O</text>
<text class="s bl" x="1249.6" y="1051.8">O</text>
<text class="s bl" x="1298.2" y="1055">OH</text>
<text class="s bl" x="1249.6" y="1086.6">O</text>
<text class="s bl" x="1298.2" y="1088.3">OH</text>
<text class="L bl" x="1264.2" y="1121">CD1</text>
<!-- CD3 -->
<text class="L bl" x="164.6" y="528">CD3</text>
<text class="s bl" x="232.7" y="512">HO</text>
<text class="s bl" x="283.7" y="512.6">O</text>
<text class="s bl" x="332.9" y="516">OH</text>
<text class="s bl" x="233.8" y="546.5">HO</text>
<text class="s bl" x="283.7" y="545.4">O</text>
<text class="s bl" x="332.2" y="549">OH</text>
<!-- ROT5 left -->
<text class="s bl" x="284.5" y="615.6">HO</text>
<text class="s bl" x="332.2" y="615">OH</text>
<text class="s bl" x="247.8" y="650.5">HO</text>
<text class="s bl" x="284.9" y="654">O</text>
<text class="s bl" x="338.6" y="655.7">OH</text>
<text class="s bl" x="243.2" y="666">O</text>
<text class="s bl" x="249.7" y="698">O</text>
<text class="s bl" x="294.3" y="700.7">OH</text>
<text class="s bl" x="207.3" y="709.8">HO</text>
<text class="L bl" x="157" y="668">ROT5</text>
<!-- ROT9 -->
<text class="s bl" x="304.5" y="747.5">HO</text>
<text class="s bl" x="351.8" y="746.7">OH</text>
<text class="s bl" x="274.3" y="778.7">HO</text>
<text class="s bl" x="305.7" y="785.2">O</text>
<text class="s bl" x="357.5" y="787.8">OH</text>
<text class="s bl" x="223.2" y="798.2">HO</text>
<text class="s bl" x="268.6" y="793">OH</text>
<text class="s bl" x="269.7" y="830">O</text>
<text class="s bl" x="314" y="833.3">OH</text>
<text class="s bl" x="227" y="842">HO</text>
<text class="L bl" x="157" y="794">ROT9</text>
<!-- CD2 -->
<text class="L bl" x="164.6" y="911">CD2</text>
<text class="s bl" x="240.2" y="905">HO</text>
<text class="s bl" x="305.7" y="903.2">O</text>
<text class="s bl" x="354.8" y="905.6">OH</text>
<text class="s bl" x="241.4" y="928.6">HO</text>
<text class="s bl" x="305.7" y="937.8">O</text>
<text class="s bl" x="354.8" y="939">OH</text>
<!-- ROT3 left -->
<text class="s bl" x="253.5" y="1015.3">HO</text>
<text class="s bl" x="299.6" y="1006.6">OH</text>
<text class="s bl" x="332.2" y="1011">OH</text>
<text class="s bl" x="356.4" y="1028">OH</text>
<text class="s bl" x="228.1" y="1034">O</text>
<text class="s bl" x="299.6" y="1048.8">O</text>
<text class="s bl" x="260.3" y="1056">O</text>
<text class="s bl" x="331" y="1064.6">OH</text>
<text class="s bl" x="251.6" y="1089">OH</text>
<text class="L bl" x="157" y="1030">ROT3</text>
<!-- ROT8 -->
<text class="s bl" x="261" y="1148.7">HO</text>
<text class="s bl" x="308.3" y="1140.2">OH</text>
<text class="s bl" x="340.5" y="1144.6">OH</text>
<text class="s bl" x="365" y="1161.6">OH</text>
<text class="s bl" x="216.4" y="1174.3">HO</text>
<text class="s bl" x="308.3" y="1182.1">O</text>
<text class="s bl" x="268.6" y="1190.2">O</text>
<text class="s bl" x="210" y="1203">HO</text>
<text class="s bl" x="336.7" y="1200">OH</text>
<text class="s bl" x="259.1" y="1220">OH</text>
<text class="L bl" x="157" y="1159">ROT8</text>
</svg>
</body></html>
